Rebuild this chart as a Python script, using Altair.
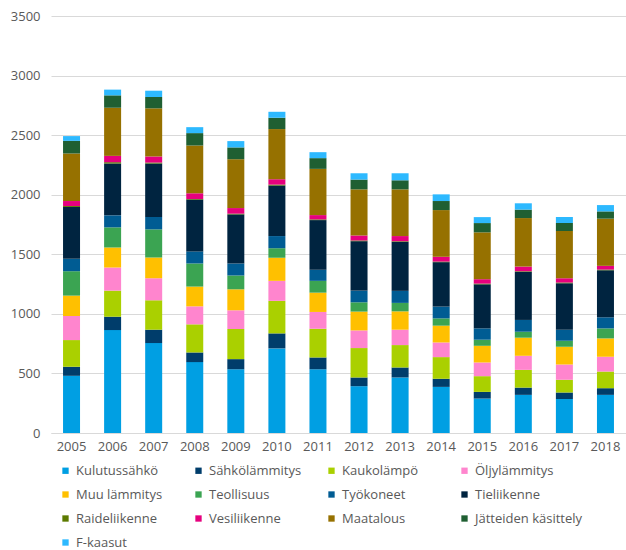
import altair as alt
import pandas as pd

years = [str(y) for y in range(2005, 2019)]

series = [
    "Kulutussähkö", "Sähkölämmitys", "Kaukolämpö", "Öljylämmitys",
    "Muu lämmitys", "Teollisuus", "Työkoneet", "Tieliikenne",
    "Raideliikenne", "Vesiliikenne", "Maatalous", "Jätteiden käsittely",
    "F-kaasut",
]

colors = [
    "#009FE3", "#003D6B", "#AAD000", "#FF85CE",
    "#FFC000", "#3BA452", "#005C93", "#002440",
    "#5C7A00", "#E6007E", "#967100", "#1F5F32",
    "#2DB9FF",
]

kulutussahko = [480, 864, 755, 595, 535, 710, 535, 393, 466, 387, 289, 320, 286, 320]
sahkolammitys = [76, 112, 112, 81, 85, 126, 99, 73, 84, 68, 56, 61, 53, 56]
kaukolampo = [224, 219, 247, 236, 253, 273, 241, 247, 188, 182, 132, 149, 107, 140]
oljylammitys = [202, 194, 185, 151, 157, 168, 141, 148, 129, 123, 115, 118, 129, 124]
muu_lammitys = [171, 168, 174, 166, 176, 194, 162, 158, 154, 141, 140, 152, 149, 154]
teollisuus = [205, 169, 236, 194, 116, 80, 99, 78, 71, 61, 51, 50, 50, 84]
tyokoneet = [104, 101, 104, 101, 101, 102, 93, 98, 101, 99, 95, 99, 93, 93]
tieliikenne = [435, 435, 449, 435, 412, 424, 417, 415, 412, 373, 370, 404, 390, 395]
raideliikenne = [8, 11, 8, 5, 6, 8, 6, 6, 5, 5, 6, 5, 6, 6]
vesiliikenne = [42, 53, 51, 48, 47, 45, 36, 42, 43, 40, 37, 39, 36, 31]
maatalous = [399, 404, 404, 401, 410, 421, 388, 387, 392, 392, 393, 407, 396, 396]
jatteiden_kasittely = [106, 104, 95, 104, 99, 95, 90, 82, 76, 76, 78, 71, 67, 61]
f_kaasut = [40, 48, 53, 50, 53, 50, 50, 53, 59, 56, 50, 53, 50, 53]

values = [
    kulutussahko, sahkolammitys, kaukolampo, oljylammitys,
    muu_lammitys, teollisuus, tyokoneet, tieliikenne,
    raideliikenne, vesiliikenne, maatalous, jatteiden_kasittely,
    f_kaasut,
]

rows = []
for i, (name, vals) in enumerate(zip(series, values)):
    for year, v in zip(years, vals):
        rows.append({"Vuosi": year, "Sektori": name, "Arvo": v, "idx": i})
df = pd.DataFrame(rows)

FONT = "Open Sans"
TEXT = "#595959"

chart = (
    alt.Chart(df)
    .mark_bar(size=17)
    .encode(
        x=alt.X(
            "Vuosi:N",
            title=None,
            axis=alt.Axis(
                labelAngle=0, labelFont=FONT, labelFontSize=13, labelColor=TEXT,
                ticks=False, domainColor="#D9D9D9", labelPadding=7,
            ),
        ),
        y=alt.Y(
            "Arvo:Q",
            title=None,
            stack="zero",
            scale=alt.Scale(domain=[0, 3500], nice=False),
            axis=alt.Axis(
                values=[0, 500, 1000, 1500, 2000, 2500, 3000, 3500],
                format="d",
                labelFont=FONT, labelFontSize=13, labelColor=TEXT,
                ticks=False, domain=False, gridColor="#D9D9D9", labelPadding=11,
            ),
        ),
        color=alt.Color(
            "Sektori:N",
            scale=alt.Scale(domain=series, range=colors),
            sort=series,
            legend=alt.Legend(
                title=None, orient="none", legendX=8, legendY=448,
                direction="horizontal",
                columns=4, gridAlign="all", columnPadding=8, rowPadding=10,
                symbolType="square", symbolSize=40, symbolStrokeWidth=0,
                labelFont=FONT, labelFontSize=13, labelColor=TEXT, labelOffset=4,
            ),
        ),
        order=alt.Order("idx:Q", sort="ascending"),
    )
    .properties(
        width=575, height=417,
        padding={"left": 51, "top": 16, "right": 0, "bottom": 117},
        autosize="none",
    )
    .configure_view(stroke=None)
    .configure_axis(gridWidth=1)
)

chart.save("out.html", embed_options={"renderer": "svg", "actions": False})
